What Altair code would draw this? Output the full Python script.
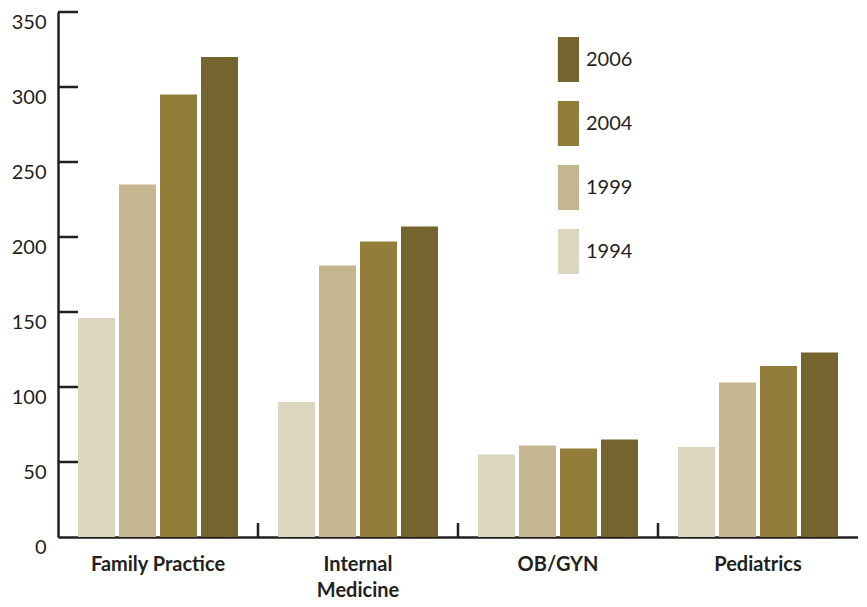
import altair as alt
import pandas as pd

categories = ["Family Practice", "Internal Medicine", "OB/GYN", "Pediatrics"]
years = ["1994", "1999", "2004", "2006"]
v1994 = [146, 90, 55, 60]
v1999 = [235, 181, 61, 103]
v2004 = [295, 197, 59, 114]
v2006 = [320, 207, 65, 123]
colors = ["#DDD6BE", "#C4B68E", "#927D3B", "#74642E"]
y_ticks = [0, 50, 100, 150, 200, 250, 300, 350]

rows = []
for yr, vals in zip(years, [v1994, v1999, v2004, v2006]):
    for c, v in zip(categories, vals):
        rows.append({"cat": c, "year": yr, "value": v})
df = pd.DataFrame(rows)

FONT = "Lato"
INK = "#231f20"

xscale = alt.Scale(domain=categories, paddingInner=0, paddingOuter=0)
yscale = alt.Scale(domain=[0, 350], nice=False)

bars = alt.Chart(df).mark_bar().encode(
    x=alt.X("cat:N", scale=xscale, sort=categories,
            axis=alt.Axis(title="", labelAngle=0, tickSize=0, labelPadding=17,
                          labelFont=FONT, labelFontSize=20, labelFontWeight="bold",
                          labelColor=INK, domainColor=INK, domainWidth=2.5,
                          labelLimit=400, labelLineHeight=26, labelBaseline="top",
                          labelExpr="datum.label == 'Internal Medicine' ? ['Internal', 'Medicine'] : datum.label")),
    xOffset=alt.XOffset("year:N", sort=years,
                        scale=alt.Scale(paddingInner=0.0976, paddingOuter=0.488)),
    y=alt.Y("value:Q", scale=yscale,
            axis=alt.Axis(title="", values=y_ticks, tickSize=0, labelPadding=12,
                          labelFont=FONT, labelFontSize=20, labelColor=INK,
                          labelBaseline="top",
                          domainColor=INK, domainWidth=2.5, grid=False)),
    color=alt.Color("year:N",
                    scale=alt.Scale(domain=years[::-1], range=colors[::-1]),
                    legend=alt.Legend(title=None, orient="none", legendX=476, legendY=25,
                                      symbolType="M0.06,-1H1V1H0.06Z", symbolSize=2025,
                                      symbolStrokeWidth=0, symbolOpacity=1, rowPadding=19,
                                      labelFont=FONT, labelFontSize=20, labelColor=INK,
                                      labelOffset=7, padding=0)),
)

xt = alt.Chart(pd.DataFrame({"cat": categories[1:]})).mark_rule(color=INK, strokeWidth=2.5).encode(
    x=alt.X("cat:N", scale=xscale, bandPosition=0),
    y=alt.value(511), y2=alt.value(525),
)

yt = alt.Chart(pd.DataFrame({"value": y_ticks[1:]})).mark_rule(color=INK, strokeWidth=2.5).encode(
    y=alt.Y("value:Q", scale=yscale),
    x=alt.value(0), x2=alt.value(20),
)

chart = alt.layer(bars, xt, yt).properties(
    width=800, height=525,
    padding={"left": 50, "top": 4, "right": 0, "bottom": 62},
    autosize=alt.AutoSizeParams(type="none"),
    background="white",
).configure_view(stroke=None)

chart.save("out.html", embed_options={"renderer": "svg", "actions": False})
